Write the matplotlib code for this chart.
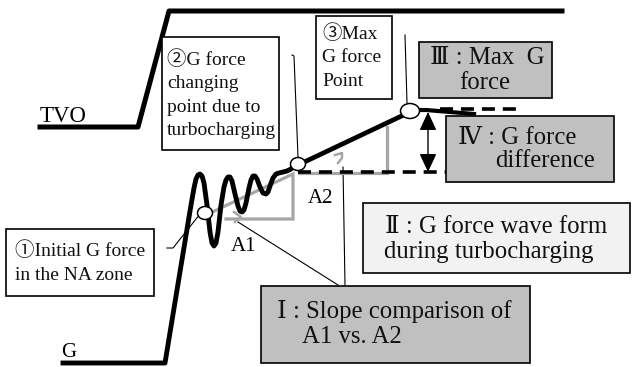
import matplotlib.pyplot as plt
from matplotlib.patches import Rectangle, Ellipse

plt.rcParams['font.family'] = ['Liberation Serif', 'DejaVu Serif', 'Noto Sans CJK JP']

# traces (pixel coords of the sketch, y grows downward)
tvo_x = [40, 138, 169, 562]
tvo_y = [127, 127, 11, 11]

g_x = [63, 165, 191, 194, 196, 198, 200, 202, 204, 207, 210, 212, 214, 216, 218, 221,
       224, 226, 228, 230, 232, 235, 238, 240, 242, 244, 246, 249, 251, 253, 255,
       257, 260, 263, 266, 268, 270, 273, 276, 279, 283, 287, 291, 296]
g_y = [363, 363, 205, 188, 179, 175, 174, 176, 183, 205, 232, 243, 246, 243, 232, 205,
       187, 180, 177, 177, 181, 194, 206, 211, 212, 210, 203, 188, 180, 176, 176,
       179, 187, 193, 194, 192, 186, 178, 174, 173, 172, 171, 169, 165]

slope_x = [298, 410]
slope_y = [165, 112]
tail_x = [412, 426, 474]
tail_y = [110, 110, 114]

base_dash_x = [298, 446]
base_dash_y = [172, 172]
max_dash_x = [440, 523]
max_dash_y = [109, 109]

a1_x = [208, 293, 293, 226]
a1_y = [214, 174, 219, 219]
a2_x = [387, 387, 299]
a2_y = [127, 173, 173]

# callout points: (name, x, y, w, h)
points = [("1", 205, 213, 15, 13), ("2", 298, 164, 15, 13), ("3", 410, 111, 19, 15)]

boxes = [
    # x0, y0, x1, y1, fill
    (162, 37, 279, 150, "white"),
    (316, 16, 392, 99, "white"),
    (6, 229, 154, 296, "white"),
    (419, 42, 552, 98, "#c0c0c0"),
    (446, 116, 614, 182, "#c0c0c0"),
    (363, 203, 630, 273, "#f2f2f2"),
    (261, 286, 530, 363, "#c0c0c0"),
]

leaders = [
    ([292, 294, 298], [55, 56, 157]),
    ([405, 407], [35, 103]),
    ([167, 173, 200], [248, 248, 214]),
    ([238, 338], [222, 285]),
    ([343, 345], [167, 285]),
]

fig = plt.figure(figsize=(6.32, 3.67), dpi=100)
ax = fig.add_axes([0, 0, 1, 1])
ax.set_xlim(0, 632)
ax.set_ylim(367, 0)
ax.axis("off")

gray = "#a6a6a6"
ax.plot(a1_x, a1_y, color=gray, lw=2.3, solid_joinstyle="miter", zorder=2)
ax.plot(a2_x, a2_y, color=gray, lw=2.3, solid_joinstyle="miter", zorder=2)
ax.plot([234, 241, 235], [212, 217, 222], color=gray, lw=1.8, zorder=2)
ax.plot([335, 342, 342, 338], [155, 153, 158, 163], color=gray, lw=1.8, zorder=2)

for lx, ly in leaders:
    ax.plot(lx, ly, color="black", lw=0.8, zorder=1)

ax.plot(tvo_x, tvo_y, color="black", lw=3.6, zorder=3)
ax.plot(g_x, g_y, color="black", lw=3.5, solid_joinstyle="round", zorder=3)
ax.plot(slope_x, slope_y, color="black", lw=3.4, zorder=3)
ax.plot(tail_x, tail_y, color="black", lw=3.0, zorder=3)
ax.plot(base_dash_x, base_dash_y, color="black", lw=2.6, ls=(0, (3.6, 2.2)), zorder=3)
ax.plot(max_dash_x, max_dash_y, color="black", lw=2.6, ls=(0, (3.6, 2.2)), zorder=3)

ax.annotate("", xy=(428, 112), xytext=(428, 172),
            arrowprops=dict(arrowstyle="<|-|>,head_length=0.75,head_width=0.35",
                            mutation_scale=15, color="black", lw=1.0,
                            shrinkA=0, shrinkB=0), zorder=4)

for name, cx, cy, w, h in points:
    ax.add_patch(Ellipse((cx, cy), w, h, facecolor="white", edgecolor="black", lw=1.1, zorder=5))

for x0, y0, x1, y1, fc in boxes:
    ax.add_patch(Rectangle((x0, y0), x1 - x0, y1 - y0, facecolor=fc,
                           edgecolor="black", lw=1.2, zorder=6))


def write(x, y, lines, size, step, ha="left"):
    for i, s in enumerate(lines):
        ax.text(x, y + i * step, s, fontsize=size, ha=ha, va="baseline",
                color="#111111", zorder=7)


small = 14
big = 17.8
write(167, 65, ["②G force", "changing", "point due to", "turbocharging"], small, 23.4)
write(322, 39, ["③Max", "G force", "Point"], small, 23.5)
write(15, 256, ["①Initial G force", "in the NA zone"], small, 24)
write(430, 64, ["Ⅲ : Max  G"], big, 0)
write(485, 89, ["force"], big, 0, ha="center")
write(458, 144, ["Ⅳ : G force"], big, 0)
write(495, 167, ["difference"], big, 0)
write(385, 233, ["Ⅱ : G force wave form"], big, 0)
write(384, 258, ["during turbocharging"], big, 0)
write(277, 318, ["Ⅰ : Slope comparison of"], big, 0)
write(302, 343, ["A1 vs. A2"], big, 0)

ax.text(40, 122, "TVO", fontsize=16.5, va="baseline", zorder=7)
ax.text(61, 357, "G", fontsize=15, va="baseline", zorder=7)
ax.text(231, 251, "A1", fontsize=15, va="baseline", zorder=7)
ax.text(308, 203, "A2", fontsize=15, va="baseline", zorder=7)

fig.savefig("out.png", dpi=100)
